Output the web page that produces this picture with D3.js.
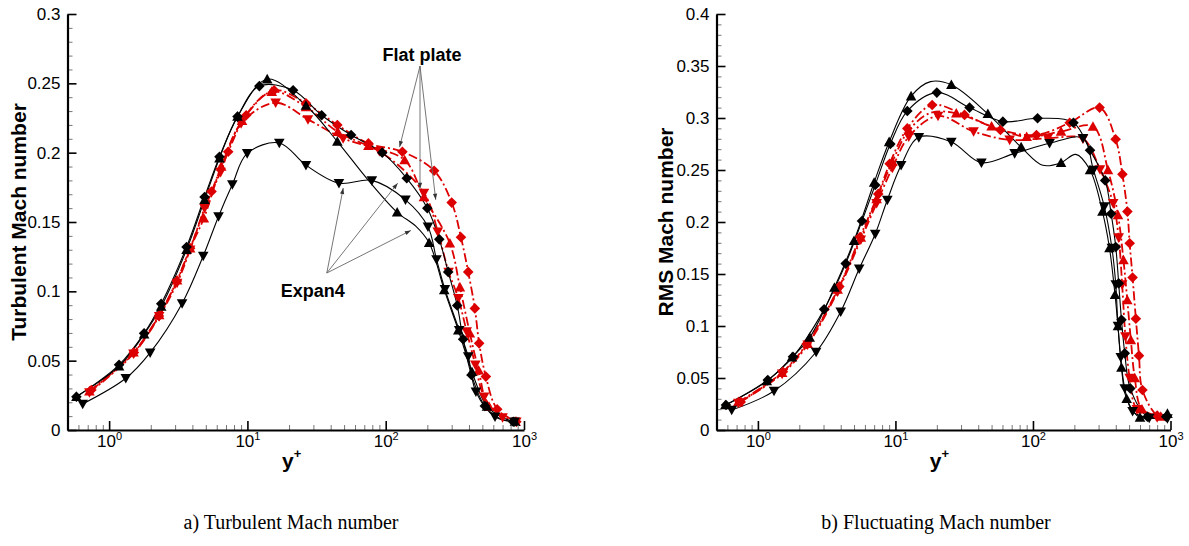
<!DOCTYPE html>
<html>
<head>
<meta charset="utf-8">
<script src="https://cdn.jsdelivr.net/npm/d3@7"></script>
<style>
  html, body { margin: 0; padding: 0; background: #fff; }
  svg { display: block; }
  .tick text { font-family: "Liberation Sans", Arial, sans-serif; }
</style>
</head>
<body>
<svg id="fig" width="1189" height="546"></svg>
<script>
// ---- Turbulent Mach number: [y+, value, marker(1) or curve-only point] ----
const tmExpanUp = [[0.58,0.024,1],[1.18,0.046,1],[1.79,0.069,1],[2.38,0.089,1],[3.63,0.130,1],[4.9,0.166,1],[6.28,0.196,1],[8.48,0.226,1],[13.9,0.253,1],[26.5,0.234,1],[44.7,0.208,1],[75,0.180],[121,0.157,1],[165,0.147],[206,0.135,1],[265,0.101,1],[335,0.072,1],[420,0.042,1],[540,0.017,1],[700,0.009],[860,0.006,1]];
const tmExpanDiamond = [[0.58,0.024,1],[1.18,0.047,1],[1.79,0.0697,1],[2.38,0.091,1],[3.63,0.132,1],[4.9,0.168,1],[6.28,0.197,1],[8.48,0.226,1],[12.2,0.248,1],[21.4,0.245,1],[34.4,0.227,1],[56.2,0.2127,1],[94.4,0.200,1],[142,0.1815,1],[200,0.160,1],[244,0.1375,1],[283,0.114,1],[329,0.0898,1],[363,0.0654,1],[417,0.0397,1],[521,0.0173,1],[680,0.008],[836,0.006,1]];
const tmExpanDown = [[0.644,0.0188,1],[1.32,0.0373,1],[1.98,0.0558,1],[3.37,0.0913,1],[4.79,0.1255,1],[6.18,0.154,1],[7.78,0.177,1],[9.96,0.1995,1],[17.0,0.207,1],[26.5,0.191,1],[45.9,0.178,1],[79.4,0.180,1],[139,0.166,1],[202,0.1466,1],[233,0.123,1],[268,0.1015,1],[340,0.072,1],[395,0.053,1],[449,0.0276,1],[617,0.0096,1],[855,0.006,1]];
const tmFlatDiamond = [[0.744,0.0288,1],[1.51,0.0558,1],[2.29,0.0822,1],[3.09,0.1075,1],[3.85,0.131,1],[5.5,0.172,1],[7.26,0.2007,1],[9.8,0.227,1],[15.6,0.245,1],[26.5,0.2356,1],[44.7,0.220,1],[75,0.2067,1],[132,0.2007,1],[224,0.187,1],[300,0.164,1],[350,0.139,1],[395,0.114,1],[441,0.0877,1],[474,0.0625,1],[530,0.0385,1],[640,0.015,1],[880,0.006,1]];
const tmFlatUp = [[0.72,0.028,1],[1.5,0.056,1],[2.3,0.083,1],[3.1,0.108,1],[3.85,0.131,1],[4.84,0.1527,1],[6.46,0.19,1],[9.14,0.223,1],[15,0.244,1],[26.5,0.233,1],[45,0.215,1],[75,0.205,1],[137,0.1947,1],[189,0.168,1],[291,0.1346,1],[344,0.103,1],[406,0.0697,1],[470,0.043,1],[560,0.0168,1],[870,0.006,1]];
const tmFlatDown = [[0.72,0.027,1],[1.5,0.055,1],[2.3,0.082,1],[3.1,0.106,1],[3.85,0.130,1],[4.9,0.160,1],[6.4,0.186,1],[9.0,0.221,1],[16,0.236,1],[27.4,0.224,1],[49.2,0.2103,1],[90,0.201,1],[189,0.171,1],[238,0.143,1],[285,0.114,1],[335,0.095,1],[385,0.071,1],[445,0.047,1],[515,0.024,1],[700,0.009,1],[880,0.006,1]];

// ---- RMS (fluctuating) Mach number ----
const rmsExpanUp = [[0.58,0.024,1],[1.16,0.047,1],[1.77,0.070,1],[2.38,0.089,1],[3.6,0.137,1],[5.0,0.182,1],[7.0,0.238,1],[9.0,0.277,1],[13.0,0.321,1],[18,0.335],[25.5,0.332,1],[47,0.304,1],[82,0.272,1],[118,0.2545],[160,0.257,1],[205,0.265],[260,0.250,1],[320,0.21,1],[360,0.175,1],[395,0.13,1],[415,0.10,1],[440,0.06,1],[480,0.03,1],[600,0.012,1],[950,0.0157,1]];
const rmsExpanDiamond = [[0.586,0.024,1],[1.18,0.048,1],[1.80,0.0705,1],[3.03,0.116,1],[4.35,0.160,1],[5.71,0.201,1],[7.13,0.2356,1],[9.18,0.275,1],[12.2,0.3067,1],[20.0,0.3244,1],[34.6,0.310,1],[60.4,0.2965,1],[108,0.2997,1],[197,0.2955,1],[260,0.269,1],[335,0.240,1],[370,0.208,1],[400,0.176,1],[420,0.141,1],[440,0.106,1],[465,0.0737,1],[510,0.040,1],[680,0.0128,1],[930,0.0128,1]];
const rmsExpanDown = [[0.645,0.0192,1],[1.31,0.0375,1],[2.65,0.075,1],[4.0,0.1138,1],[5.45,0.155,1],[7.13,0.1885,1],[8.73,0.2212,1],[11.0,0.2545,1],[14.8,0.2814,1],[25.5,0.277,1],[42.2,0.257,1],[73.6,0.266,1],[132,0.2757,1],[231,0.2805,1],[275,0.250,1],[330,0.215,1],[375,0.175,1],[400,0.14,1],[415,0.10,1],[435,0.07,1],[465,0.04,1],[530,0.018,1],[700,0.0115,1],[950,0.011,1]];
const rmsFlatDiamond = [[0.75,0.027,1],[1.52,0.056,1],[2.26,0.0827,1],[3.91,0.138,1],[5.53,0.1856,1],[7.5,0.227,1],[9.08,0.256,1],[12.2,0.29,1],[18.5,0.3125,1],[31.8,0.303,1],[58,0.2885,1],[106,0.2837,1],[185,0.2955,1],[305,0.310,1],[399,0.2795,1],[447,0.2458,1],[486,0.21,1],[505,0.1795,1],[530,0.1467,1],[560,0.107,1],[590,0.0715,1],[625,0.0385,1],[800,0.014,1],[950,0.012]];
const rmsFlatUp = [[0.72,0.027,1],[1.5,0.055,1],[2.3,0.083,1],[3.8,0.135,1],[5.6,0.185,1],[7.3,0.222,1],[9.5,0.258,1],[12.5,0.288,1],[18,0.305],[27.7,0.3045,1],[50,0.292,1],[90,0.282,1],[160,0.287,1],[273,0.2917,1],[351,0.25,1],[415,0.2067,1],[455,0.1635,1],[485,0.125,1],[515,0.0865,1],[550,0.05,1],[620,0.02,1],[850,0.013,1]];
const rmsFlatDown = [[0.72,0.026,1],[1.5,0.054,1],[2.3,0.082,1],[3.8,0.133,1],[5.6,0.183,1],[7.3,0.218,1],[9.5,0.252,1],[12.5,0.282,1],[20.4,0.302,1],[37,0.287,1],[67.7,0.279,1],[128,0.2805,1],[231,0.280,1],[307,0.2506,1],[383,0.218,1],[420,0.185,1],[445,0.14,1],[470,0.09,1],[505,0.05,1],[570,0.02,1],[800,0.012,1]];

// ---- axes ----
const xDomain = [0.5, 1000];
const xMajorTicks = [1, 10, 100, 1000];
const xMajorExponents = ["0", "1", "2", "3"];
const tmYMax = 0.3;
const rmsYMax = 0.4;
const yMajorStep = 0.05;
const yMinorStep = 0.01;

// ---- annotations (data coordinates of the left panel) ----
const flatPlateOrigin = [177, 0.2625];
const flatPlateTips = [[126, 0.204], [177, 0.174], [230, 0.166]];
const expanOrigin = [37.5, 0.1132];
const expanTips = [[49.3, 0.1745], [122, 0.178], [152, 0.1439]];

const RED = "#dd0000";
const BLACK = "#000000";

function fmtTick(v) {
  if (Math.abs(v) < 1e-9) return "0";
  return String(+v.toFixed(2));
}

function range(a, b, step) {
  const out = [];
  const n = Math.round((b - a) / step);
  for (let i = 0; i <= n; i++) out.push(+(a + i * step).toFixed(6));
  return out;
}

function markerPath(kind, s) {
  if (kind === "diamond") return `M0,${-s}L${s},0L0,${s}L${-s},0Z`;
  if (kind === "up") return `M0,${-s}L${s},${s * 0.8}L${-s},${s * 0.8}Z`;
  return `M0,${s}L${s},${-s * 0.8}L${-s},${-s * 0.8}Z`;
}

const svg = d3.select("#fig");

const panels = [
  {
    xRange: [67.5, 524], yMax: tmYMax, yRange: [430, 14],
    yTitle: "Turbulent Mach number", yTitleX: 26,
    caption: "a) Turbulent Mach number", captionX: 291,
    series: [
      { data: tmFlatDiamond, color: RED, marker: "diamond", dash: true },
      { data: tmFlatUp, color: RED, marker: "up", dash: true },
      { data: tmFlatDown, color: RED, marker: "down", dash: true },
      { data: tmExpanUp, color: BLACK, marker: "up", dash: false },
      { data: tmExpanDiamond, color: BLACK, marker: "diamond", dash: false },
      { data: tmExpanDown, color: BLACK, marker: "down", dash: false }
    ],
    notes: true
  },
  {
    xRange: [716.5, 1170.5], yMax: rmsYMax, yRange: [430, 14],
    yTitle: "RMS Mach number", yTitleX: 673,
    caption: "b) Fluctuating Mach number", captionX: 936,
    series: [
      { data: rmsFlatDiamond, color: RED, marker: "diamond", dash: true },
      { data: rmsFlatUp, color: RED, marker: "up", dash: true },
      { data: rmsFlatDown, color: RED, marker: "down", dash: true },
      { data: rmsExpanUp, color: BLACK, marker: "up", dash: false },
      { data: rmsExpanDiamond, color: BLACK, marker: "diamond", dash: false },
      { data: rmsExpanDown, color: BLACK, marker: "down", dash: false }
    ],
    notes: false
  }
];

// arrowhead used by the annotation leaders
svg.append("defs").append("marker")
  .attr("id", "arrowhead")
  .attr("viewBox", "0 0 10 10")
  .attr("refX", 10).attr("refY", 5)
  .attr("markerWidth", 8).attr("markerHeight", 6)
  .attr("markerUnits", "userSpaceOnUse")
  .attr("orient", "auto")
  .append("path").attr("d", "M0,1.5L10,5L0,8.5Z").attr("fill", "#333");

panels.forEach(p => {
  const x = d3.scaleLog().domain(xDomain).range(p.xRange);
  const y = d3.scaleLinear().domain([0, p.yMax]).range(p.yRange);
  const g = svg.append("g");
  const x0 = p.xRange[0], yBase = p.yRange[0];

  // curves
  const line = d3.line()
    .x(d => x(d[0])).y(d => y(d[1]))
    .curve(d3.curveCatmullRom.alpha(0.5));

  p.series.forEach(s => {
    g.append("path")
      .attr("d", line(s.data))
      .attr("fill", "none")
      .attr("stroke", s.color)
      .attr("stroke-width", s.dash ? 1.8 : 1.1)
      .attr("stroke-dasharray", s.dash ? "9,3,2,3" : null);
  });
  p.series.forEach(s => {
    g.selectAll(null)
      .data(s.data.filter(d => d[2]))
      .join("path")
      .attr("transform", d => `translate(${x(d[0])},${y(d[1])})`)
      .attr("d", markerPath(s.marker, 5.3))
      .attr("fill", s.color);
  });

  // y axis: minor then major ticks, pointing inward
  const yMinor = range(0, p.yMax, yMinorStep).filter(v => Math.abs(v / yMajorStep - Math.round(v / yMajorStep)) > 1e-6);
  const yMajor = range(0, p.yMax, yMajorStep);
  const yMinorAxis = g.append("g").attr("transform", `translate(${x0},0)`)
    .call(d3.axisLeft(y).tickValues(yMinor).tickSize(-5).tickSizeOuter(0).tickFormat(""));
  yMinorAxis.select(".domain").remove();
  yMinorAxis.selectAll("line").attr("stroke", "#777").attr("stroke-width", 1);

  const yAxis = g.append("g").attr("transform", `translate(${x0},0)`)
    .call(d3.axisLeft(y).tickValues(yMajor).tickSize(-9).tickSizeOuter(0).tickPadding(7).tickFormat(fmtTick));
  yAxis.select(".domain").attr("stroke", "#000").attr("stroke-width", 2.2);
  yAxis.selectAll("line").attr("stroke-width", 1.6);
  yAxis.selectAll("text").attr("font-size", 17).attr("fill", "#000");

  // x axis: minor ticks at 2..9 of each decade
  const xMinor = [];
  [0.1, 1, 10, 100].forEach(dec => {
    for (let k = 2; k <= 9; k++) {
      const v = +(dec * k).toFixed(6);
      if (v > xDomain[0] && v < xDomain[1]) xMinor.push(v);
    }
  });
  const xMinorAxis = g.append("g").attr("transform", `translate(0,${yBase})`)
    .call(d3.axisBottom(x).tickValues(xMinor).tickSize(-5).tickSizeOuter(0).tickFormat(""));
  xMinorAxis.select(".domain").remove();
  xMinorAxis.selectAll("line").attr("stroke", "#777").attr("stroke-width", 1);

  const xAxis = g.append("g").attr("transform", `translate(0,${yBase})`)
    .call(d3.axisBottom(x).tickValues(xMajorTicks).tickSize(-9).tickSizeOuter(0).tickPadding(6).tickFormat(""));
  xAxis.select(".domain").attr("stroke", "#000").attr("stroke-width", 2.2);
  xAxis.selectAll("line").attr("stroke-width", 1.6);
  xAxis.selectAll(".tick text").each(function(d, i) {
    const t = d3.select(this)
      .attr("font-size", 17).attr("fill", "#000")
      .attr("dy", null).attr("y", 17)
      .attr("text-anchor", "middle");
    t.append("tspan").text("10");
    t.append("tspan").text(xMajorExponents[i]).attr("font-size", 11).attr("dy", -7);
  });

  // axis titles
  const xc = (p.xRange[0] + p.xRange[1]) / 2;
  const xt = g.append("text")
    .attr("x", xc - 4).attr("y", 468)
    .attr("text-anchor", "middle")
    .attr("font-family", "Liberation Sans, Arial, sans-serif")
    .attr("font-weight", "bold").attr("font-size", 21);
  xt.append("tspan").text("y");
  xt.append("tspan").text("+").attr("font-size", 13).attr("dy", -10);

  g.append("text")
    .attr("transform", `translate(${p.yTitleX},${(p.yRange[0] + p.yRange[1]) / 2}) rotate(-90)`)
    .attr("text-anchor", "middle")
    .attr("font-family", "Liberation Sans, Arial, sans-serif")
    .attr("font-weight", "bold").attr("font-size", 21)
    .text(p.yTitle);

  // caption
  g.append("text")
    .attr("x", p.captionX).attr("y", 529)
    .attr("text-anchor", "middle")
    .attr("font-family", "Liberation Serif, Times New Roman, serif")
    .attr("font-size", 20)
    .text(p.caption);

  // leader annotations
  if (p.notes) {
    const drawGroup = (origin, tips, label, dx, dy) => {
      const ox = x(origin[0]), oy = y(origin[1]);
      tips.forEach(t => {
        g.append("line")
          .attr("x1", ox).attr("y1", oy)
          .attr("x2", x(t[0])).attr("y2", y(t[1]))
          .attr("stroke", "#666").attr("stroke-width", 0.9)
          .attr("marker-end", "url(#arrowhead)");
      });
      g.append("text")
        .attr("x", ox + dx).attr("y", oy + dy)
        .attr("text-anchor", "middle")
        .attr("font-family", "Liberation Sans, Arial, sans-serif")
        .attr("font-weight", "bold").attr("font-size", 18)
        .text(label);
    };
    drawGroup(flatPlateOrigin, flatPlateTips, "Flat plate", 2, -5);
    drawGroup(expanOrigin, expanTips, "Expan4", -14, 24);
  }
});
</script>
</body>
</html>
